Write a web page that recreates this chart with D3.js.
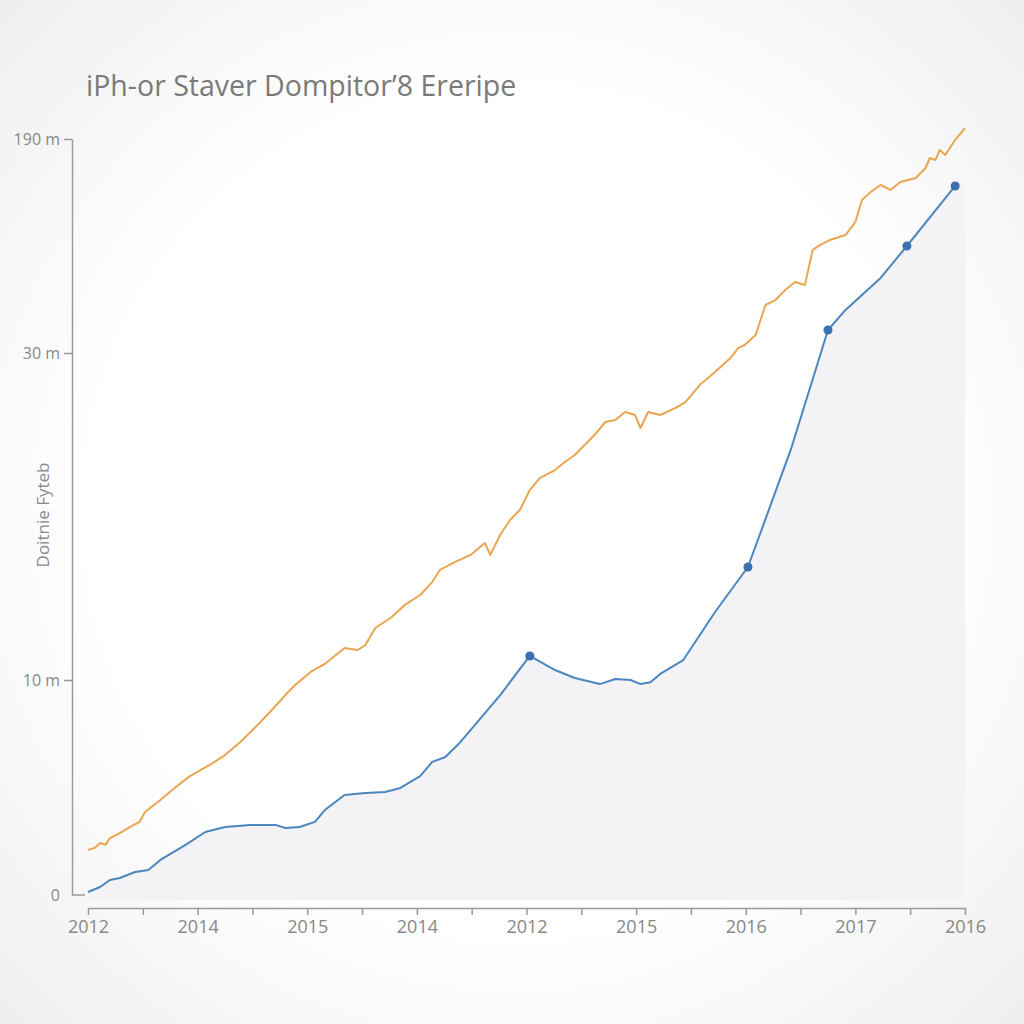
<!DOCTYPE html>
<html>
<head>
<meta charset="utf-8">
<script src="https://cdn.jsdelivr.net/npm/d3@7"></script>
<style>
  html, body { margin: 0; padding: 0; background: #fff; }
  svg { display: block; }
  text { font-family: "Open Sans", "Noto Sans", sans-serif; }
</style>
</head>
<body>
<div id="chart"></div>
<script>
// x positions are slot indices 0..8 along the bottom axis
const xLabels = ['2012', '2014', '2015', '2014', '2012', '2015', '2016', '2017', '2016'];
const yTickValues = [0, 10, 30, 190];
const yTickLabels = ['0', '10 m', '30 m', '190 m'];

const blueX = [0, .11, .2, .29, .43, .55, .66, .89, 1.07, 1.25, 1.48, 1.71, 1.8, 1.93, 2.07, 2.16, 2.34, 2.53, 2.71, 2.85,
  3.03, 3.14, 3.26, 3.38, 3.53, 3.76, 4.03, 4.26, 4.44, 4.67, 4.81, 4.95, 5.04, 5.13, 5.22, 5.43, 5.72, 6.02, 6.41,
  6.75, 6.91, 7.23, 7.47, 7.91];
const blueY = [.14, .37, .7, .79, 1.07, 1.16, 1.63, 2.33, 2.93, 3.16, 3.26, 3.26, 3.12, 3.16, 3.4, 3.95, 4.65, 4.74, 4.79, 4.98,
  5.53, 6.19, 6.42, 7.02, 7.91, 9.3, 11.47, 10.61, 10.12, 9.81, 10.06, 10, 9.81, 9.9, 10.37, 11.22, 14.16, 16.91, 24.07,
  47.2, 62.2, 86.1, 110, 154.9];
const blueMarkers = [4.03, 6.02, 6.75, 7.47, 7.91];

const orangeX = [0, .06, .11, .16, .2, .29, .38, .47, .52, .66, .79, .93, 1.11, 1.25, 1.39, 1.52, 1.66, 1.8, 1.89, 2.03,
  2.16, 2.25, 2.34, 2.46, 2.53, 2.62, 2.76, 2.89, 3.03, 3.14, 3.21, 3.35, 3.49, 3.62, 3.67, 3.76, 3.85, 3.94, 4.03, 4.12,
  4.26, 4.35, 4.44, 4.53, 4.62, 4.72, 4.81, 4.9, 4.99, 5.04, 5.11, 5.22, 5.36, 5.45, 5.58, 5.72, 5.86, 5.93, 5.99, 6.09,
  6.18, 6.27, 6.36, 6.45, 6.54, 6.61, 6.68, 6.77, 6.91, 7.0, 7.06, 7.14, 7.23, 7.32, 7.41, 7.55, 7.64, 7.68, 7.73, 7.77,
  7.82, 7.91, 8.0];
const orangeY = [2.09, 2.19, 2.42, 2.33, 2.65, 2.88, 3.16, 3.4, 3.86, 4.42, 4.98, 5.53, 6.05, 6.51, 7.12, 7.77, 8.51, 9.3, 9.77, 10.49,
  10.98, 11.47, 11.96, 11.83, 12.14, 13.18, 13.79, 14.59, 15.2, 15.99, 16.73, 17.22, 17.65, 18.38, 17.65, 18.87, 19.79, 20.4, 21.62, 22.35,
  22.84, 23.33, 23.76, 24.37, 24.98, 25.78, 25.9, 26.39, 26.21, 25.41, 26.39, 26.21, 26.64, 27, 28.04, 28.84, 29.69, 33.7, 36, 43.5,
  65.9, 69.6, 77.1, 83.1, 80.8, 107, 110.8, 114.5, 118.2, 128, 144.4, 150.4, 155.6, 151.9, 157.9, 160.8, 168.3, 175.8, 174.3, 181.8,
  178, 189.3, 198.2];

const W = 1024, H = 1024;
const svg = d3.select('#chart').append('svg').attr('width', W).attr('height', H);

// soft grey vignette behind everything
const defs = svg.append('defs');
const grad = defs.append('radialGradient').attr('id', 'bg').attr('cx', '50%').attr('cy', '50%').attr('r', '75%');
grad.append('stop').attr('offset', '55%').attr('stop-color', '#ffffff');
grad.append('stop').attr('offset', '100%').attr('stop-color', '#ececec');
svg.append('rect').attr('width', W).attr('height', H).attr('fill', 'url(#bg)');

const x = d3.scaleLinear().domain([0, 8]).range([88, 965]);
const y = d3.scaleLinear().domain(yTickValues).range([895, 680, 353, 139]);

const blue = blueX.map((d, i) => ({ x: d, y: blueY[i] }));
const orange = orangeX.map((d, i) => ({ x: d, y: orangeY[i] }));

// area under blue series
const areaData = blue.concat([{ x: 8, y: blueY[blueY.length - 1] }]);
svg.append('path')
  .datum(areaData)
  .attr('fill', '#f3f3f6')
  .attr('d', d3.area().x(d => x(d.x)).y0(900).y1(d => y(d.y)));

// y axis
const yAxis = svg.append('g')
  .attr('transform', 'translate(72,0)')
  .call(d3.axisLeft(y).tickValues(yTickValues)
    .tickFormat((d, i) => yTickLabels[i]).tickSize(8).tickSizeOuter(0).tickPadding(4));
yAxis.select('.domain').attr('stroke', '#9a9a9a').attr('stroke-width', 1.5);
yAxis.selectAll('.tick line').attr('stroke', '#9a9a9a').attr('stroke-width', 1.5)
  .filter(d => d === 0).remove();
yAxis.selectAll('.tick text').attr('fill', '#888').style('font-size', '16px')
  .filter(d => d === 0).attr('x', -12);
yAxis.append('line').attr('x1', 0).attr('x2', 13).attr('y1', y(0)).attr('y2', y(0))
  .attr('stroke', '#9a9a9a').attr('stroke-width', 1.5);

// x axis with half-step minor ticks
const xAxis = svg.append('g')
  .attr('transform', 'translate(0,908)')
  .call(d3.axisBottom(x).tickValues(d3.range(0, 8.01, 0.5))
    .tickFormat(d => Number.isInteger(d) ? xLabels[d] : '').tickSize(7).tickSizeOuter(0).tickPadding(5));
xAxis.select('.domain').attr('stroke', '#9a9a9a').attr('stroke-width', 1.5);
xAxis.selectAll('.tick line').attr('stroke', '#9a9a9a').attr('stroke-width', 1.5);
xAxis.selectAll('.tick text').attr('fill', '#888').style('font-size', '18px');

// lines
const line = d3.line().x(d => x(d.x)).y(d => y(d.y));
svg.append('path').datum(orange)
  .attr('fill', 'none').attr('stroke', '#eaa552').attr('stroke-width', 2)
  .attr('stroke-linejoin', 'round').attr('d', line);
svg.append('path').datum(blue)
  .attr('fill', 'none').attr('stroke', '#4b86bd').attr('stroke-width', 2)
  .attr('stroke-linejoin', 'round').attr('d', line);

svg.selectAll('.marker')
  .data(blue.filter(d => blueMarkers.includes(d.x)))
  .enter().append('circle')
  .attr('class', 'marker')
  .attr('cx', d => x(d.x)).attr('cy', d => y(d.y)).attr('r', 4.5)
  .attr('fill', '#3c6fae');

// titles
svg.append('text').attr('x', 86).attr('y', 96)
  .attr('fill', '#7a7a7a').style('font-size', '28.5px')
  .text('iPh-or Staver Dompitor\u20198 Ereripe');

svg.append('text')
  .attr('transform', 'translate(49,515) rotate(-90)')
  .attr('text-anchor', 'middle')
  .attr('fill', '#8a8a8a').style('font-size', '17px')
  .text('Doitnie Fyteb');
</script>
</body>
</html>
